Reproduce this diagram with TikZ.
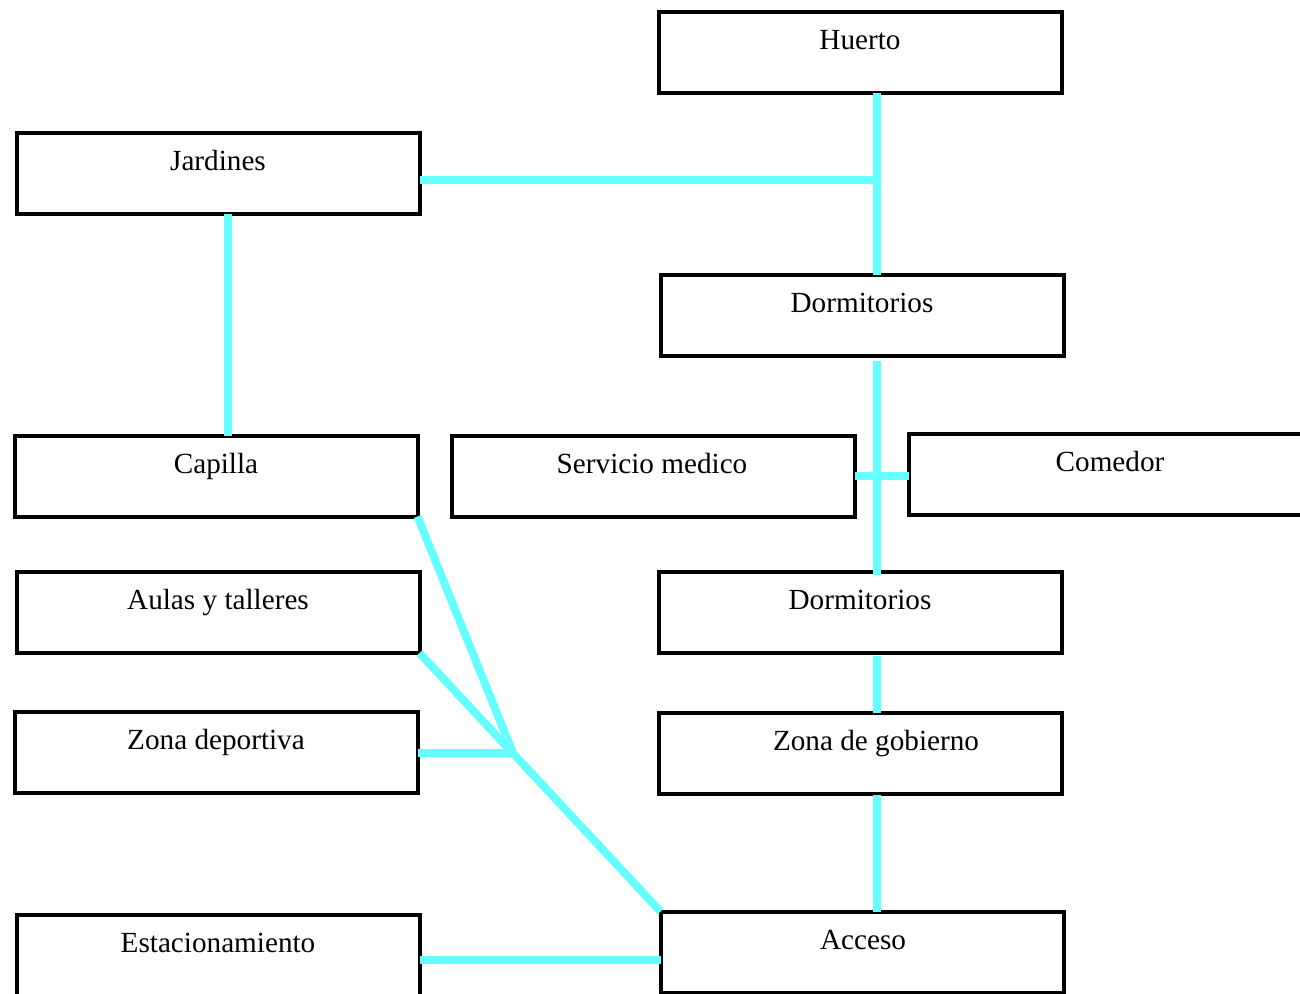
\documentclass[tikz,border=0pt]{standalone}
\usepackage{fontspec}
\setmainfont{Liberation Serif}
\definecolor{cy}{RGB}{102,255,255}
\begin{document}
\begin{tikzpicture}[x=0.5pt,y=-0.5pt,
  box/.style={draw=black,line width=2pt,fill=white,minimum width=201.5pt,minimum height=40.5pt,inner sep=0pt,outer sep=0pt},
  txt/.style={anchor=base,inner sep=0pt,font=\fontsize{14.6}{17}\selectfont},
  link/.style={draw=cy,line width=4pt}]
\useasboundingbox (0,0) rectangle (1300,993);
\fill[white] (0,0) rectangle (1300,993);
% boxes
\node[box] (huerto) at (860.5,52.5) {};
\node[box] (jardines) at (218.5,173.5) {};
\node[box] (dorma) at (862.5,315.5) {};
\node[box] (capilla) at (216,476) {};
\node[box] (servicio) at (653,476) {};
\node[box] (comedor) at (1110.5,474) {};
\node[box] (aulas) at (218,612.5) {};
\node[box] (dormb) at (860.5,612.5) {};
\node[box] (deport) at (216,752.5) {};
\node[box] (gobierno) at (860.5,753.5) {};
\node[box] (estac) at (218,955.5) {};
\node[box] (acceso) at (862,952) {};
% texts
\node[txt] (thuerto) at (860,49) {Huerto};
\node[txt] (tjardines) at (218,170) {Jardines};
\node[txt] (tdorma) at (862,312) {Dormitorios};
\node[txt] (tcapilla) at (216,473) {Capilla};
\node[txt] (tservicio) at (652,473) {Servicio medico};
\node[txt] (tcomedor) at (1110,471) {Comedor};
\node[txt] (taulas) at (218,609) {Aulas y talleres};
\node[txt] (tdormb) at (860,609) {Dormitorios};
\node[txt] (tdeport) at (216,749) {Zona deportiva};
\node[txt] (tgobierno) at (876,750) {Zona de gobierno};
\node[txt] (testac) at (218,952) {Estacionamiento};
\node[txt] (tacceso) at (863,949) {Acceso};
% helper coordinates
\coordinate (vx) at (877,0);
\coordinate (vj) at (228,0);
\coordinate (hj) at (0,180);
\coordinate (he) at (0,960);
\coordinate (J) at (513,753);
% connectors
\draw[link] (huerto.south -| vx) -- (dorma.north -| vx);
\draw[link] (jardines.east |- hj) -- ([xshift=2pt]vx |- hj);
\draw[link] (jardines.south -| vj) -- (capilla.north -| vj);
\draw[link] ([yshift=-2.5pt]dorma.south -| vx) -- ([yshift=-1.5pt]dormb.north -| vx);
\draw[link] (servicio.east) -- (comedor.west |- servicio.east);
\draw[link] ([yshift=-1.5pt]dormb.south -| vx) -- (gobierno.north -| vx);
\draw[link] ([yshift=-0.5pt]gobierno.south -| vx) -- (acceso.north -| vx);
\draw[link] (estac.east |- he) -- (acceso.west |- he);
\draw[link] (capilla.south east) -- (J);
\draw[link] (aulas.south east) -- (acceso.north west);
\draw[link] (deport.east |- J) -- (J);
\end{tikzpicture}
\end{document}
